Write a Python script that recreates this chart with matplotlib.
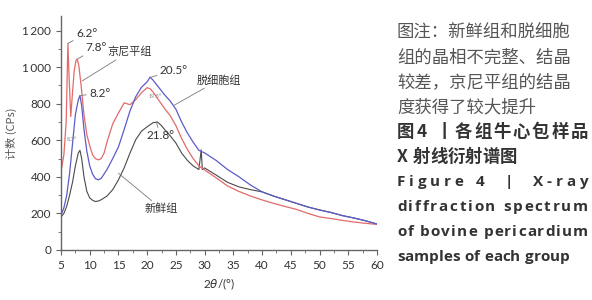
import numpy as np
import matplotlib
matplotlib.use('Agg')
from matplotlib import pyplot as plt
from matplotlib.ticker import MultipleLocator, FuncFormatter

plt.rcParams['font.family'] = ['Lato', 'Noto Sans CJK SC', 'DejaVu Sans']

# 京尼平组 (red)
red_x = [5, 5.5, 5.9, 6.2, 6.4, 6.7, 7.0, 7.3, 7.6, 7.8, 8.1, 8.5, 9.0, 9.5, 10, 10.5, 11, 11.5, 12,
         12.5, 13, 14, 15, 16, 17, 18, 19, 20, 20.5, 21, 22, 23, 24, 25, 26, 27, 28, 29, 30, 32, 34,
         36, 38, 40, 42, 44, 46, 48, 50, 52, 54, 56, 58, 60]
red_y = [430, 520, 700, 1130, 950, 730, 860, 980, 1035, 1045, 1010, 900, 740, 630, 570, 520, 500, 493, 500,
         530, 590, 690, 750, 805, 795, 822, 860, 888, 882, 865, 820, 775, 735, 680, 610, 550, 500, 460, 438, 395, 350,
         320, 295, 274, 255, 238, 222, 200, 181, 172, 162, 153, 146, 140]

# 脱细胞组 (blue)
blue_x = [5, 5.5, 6, 6.5, 7, 7.5, 8.0, 8.3, 8.6, 9.0, 9.5, 10, 10.5, 11, 11.5, 12, 13, 14, 15, 16, 17, 18,
          19, 20, 20.5, 21, 22, 23, 24, 25, 26, 27, 28, 29, 30, 32, 34, 36, 38, 40, 42, 44, 46, 48,
          50, 52, 54, 56, 58, 60]
blue_y = [190, 230, 300, 420, 580, 740, 820, 845, 790, 660, 540, 460, 415, 390, 384, 392, 440, 500, 564, 660, 760, 838,
          890, 920, 945, 930, 890, 850, 815, 770, 700, 640, 590, 545, 531, 490, 440, 400, 355, 318, 295, 275, 255, 235,
          219, 205, 188, 175, 160, 142]

# 新鲜组 (gray)
gray_x = [5, 5.5, 6, 6.5, 7, 7.5, 8.0, 8.3, 8.6, 9.0, 9.5, 10, 10.5, 11, 11.5, 12, 13, 14, 15, 16, 17, 18,
          19, 20, 21, 21.8, 22.5, 23, 24, 25, 26, 27, 28, 29, 29.4, 29.6, 29.8, 30, 32, 34, 36, 38, 40, 42,
          44, 46, 48, 50, 52, 54, 56, 58, 60]
gray_y = [180, 200, 240, 300, 370, 460, 530, 545, 500, 400, 320, 285, 272, 265, 268, 275, 295, 330, 384, 450, 530, 603,
          650, 674, 696, 700, 680, 660, 625, 585, 530, 490, 460, 440, 548, 440, 445, 449, 410, 370, 345, 330, 318, 295,
          275, 255, 235, 219, 205, 188, 175, 160, 142]

x_ticks = list(range(5, 61, 5))
y_ticks = list(range(0, 1201, 200))

fig = plt.figure(figsize=(5.92, 3.0), dpi=100)
ax = fig.add_axes([61/592, 50/300, 316/592, 234/300])

ax.plot(gray_x, gray_y, color='#4a4a4a', lw=0.8)
ax.plot(red_x, red_y, color='#e26a6a', lw=0.9)
ax.plot(blue_x, blue_y, color='#5c5cc8', lw=0.9)

ax.set_xlim(5, 60)
ax.set_ylim(0, 1280)
ax.set_xticks(x_ticks)
ax.set_yticks(y_ticks)
ax.xaxis.set_minor_locator(MultipleLocator(2.5))
ax.yaxis.set_minor_locator(MultipleLocator(100))
ax.yaxis.set_major_formatter(FuncFormatter(
    lambda v, p: ('%d\u2009%03d' % (v // 1000, v % 1000)) if v >= 1000 else '%d' % v))
for s in ['top', 'right']:
    ax.spines[s].set_visible(False)
for s in ['left', 'bottom']:
    ax.spines[s].set_color('#666666')
    ax.spines[s].set_linewidth(1.0)
ax.tick_params(which='both', direction='out', colors='#666666', labelcolor='#333333', labelsize=8.5)
ax.tick_params(which='major', length=3.5)
ax.tick_params(which='minor', length=2)

ax.set_ylabel('计数 (CPs)', fontsize=8, color='#555555', family=['Noto Sans CJK SC', 'DejaVu Sans'])
ax.set_xlabel(r'2$\it{\theta}$/(°)', fontsize=8.5, color='#333333', labelpad=4)

# annotations with leader lines
lc = '#7a7a7a'
def note(txt, xy, xytext, fs=8.5, ha='left'):
    ax.annotate(txt, xy=xy, xytext=xytext, fontsize=fs, ha=ha, va='center', color='#333333',
                arrowprops=dict(arrowstyle='-', color=lc, lw=0.6, shrinkA=0, shrinkB=0),
                family=['Lato', 'Noto Sans CJK SC', 'DejaVu Sans'])

note('6.2°', (6.2, 1130), (7.6, 1185))
note('7.8°', (7.9, 1045), (9.3, 1105))
note('京尼平组', (8.7, 925), (13.0, 1085), fs=8)
note('8.2°', (8.4, 845), (9.9, 858))
note('20.5°', (20.6, 945), (22.2, 980))
note('脱细胞组', (24.6, 790), (28.6, 930), fs=8)
note('21.8°', (21.6, 700), (19.8, 625))
note('新鲜组', (15.0, 420), (19.6, 225), fs=8)
ax.text(6.0, 605, '8.7°', fontsize=4, color='#888888', va='center')
ax.text(20.2, 840, '19.5°', fontsize=4, color='#888888', va='center')

# caption on the right
x0, x1 = 397/592, 588/592
cn_lines = ['图注：新鲜组和脱细胞', '组的晶相不完整、结晶', '较差，京尼平组的结晶', '度获得了较大提升']
cn_y = [33, 58, 82, 107]
for t, yy in zip(cn_lines, cn_y):
    fig.text(x0, 1 - yy/300, t, fontsize=12.5, color='#555555', va='center', ha='left',
             family=['Noto Sans CJK SC', 'DejaVu Sans'])

renderer = fig.canvas.get_renderer()

def justify(line, yy, fs, bold, fam, color, full=True):
    # place characters one by one so the line fills the column width
    texts = [fig.text(0, 1 - yy/300, ch, fontsize=fs, fontweight='bold' if bold else 'normal',
                      va='center', ha='left', color=color, family=fam) for ch in line]
    widths = []
    for ch, t in zip(line, texts):
        if ch == ' ':
            w = 0.3 * fs * 100 / 72 / 592
        else:
            w = t.get_window_extent(renderer).width / 592
        widths.append(w)
    total = sum(widths)
    gap = (x1 - x0 - total) / (len(line) - 1) if full else 0.0
    xx = x0
    for t, w in zip(texts, widths):
        t.set_x(xx)
        xx += w + gap

cn_fam = ['Noto Sans CJK SC', 'DejaVu Sans']
en_fam = ['Open Sans', 'DejaVu Sans']
justify('图4 丨各组牛心包样品', 132, 12.5, True, cn_fam, '#333333')
justify('X 射线衍射谱图', 157, 12.5, True, cn_fam, '#333333', full=False)
justify('Figure 4  |  X-ray', 182, 11, True, en_fam, '#333333')
justify('diffraction spectrum', 207, 11, True, en_fam, '#333333')
justify('of bovine pericardium', 232, 11, True, en_fam, '#333333')
justify('samples of each group', 257, 11, True, en_fam, '#333333', full=False)

fig.savefig('out.png', dpi=100)
